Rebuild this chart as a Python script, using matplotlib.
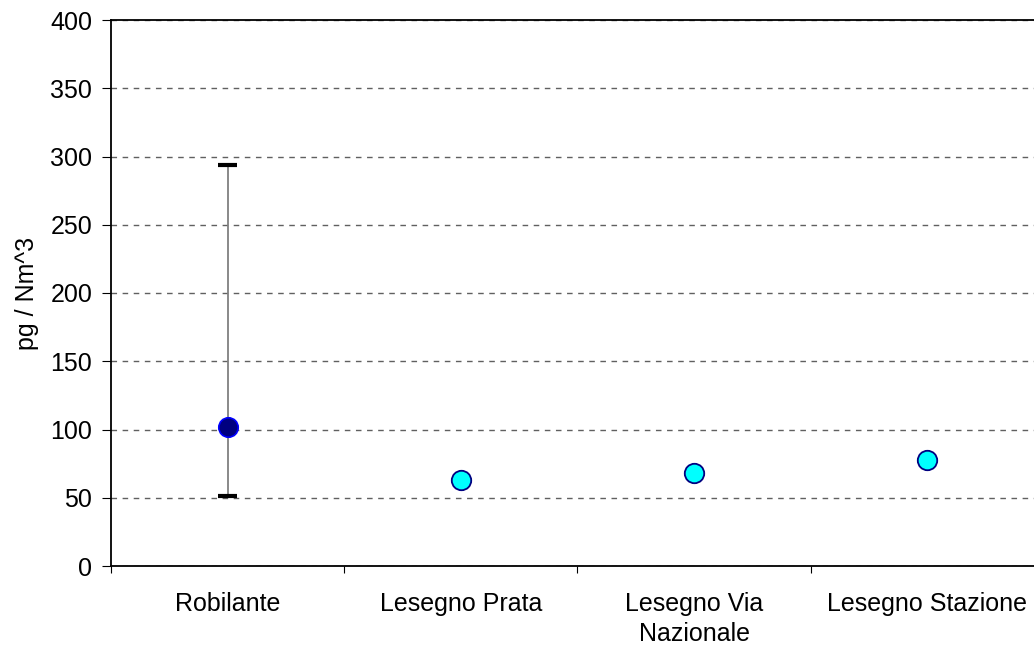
import matplotlib.pyplot as plt
import numpy as np

plt.rcParams['font.family'] = ['Liberation Sans', 'DejaVu Sans']
plt.rcParams['font.size'] = 18

# Data
sites = ['Robilante', 'Lesegno Prata', 'Lesegno Via\nNazionale', 'Lesegno Stazione']
values = [101.6, 63.0, 68.4, 77.4]
err_low = [51.0, None, None, None]
err_high = [294.0, None, None, None]

fig = plt.figure(figsize=(10.34, 6.48), dpi=100)
ax = fig.add_axes([111 / 1034, 1 - 566 / 648, 933 / 1034, 546 / 648])

x = np.arange(len(sites))

# Robilante with min/max range
ax.errorbar(x[0], values[0],
            yerr=[[values[0] - err_low[0]], [err_high[0] - values[0]]],
            fmt='none', ecolor='#808080', elinewidth=1.3, capsize=0, zorder=3)
for yc in (err_low[0], err_high[0]):
    ax.plot([x[0] - 0.04, x[0] + 0.04], [yc, yc], color='black', lw=3,
            solid_capstyle='butt', zorder=4)
ax.plot(x[0], values[0], 'o', ms=14, mfc='#000080', mec='#0000FF', mew=1.2, zorder=5)

# other sites
ax.plot(x[1:], values[1:], 'o', ls='none', ms=14, mfc='#00FFFF', mec='#000080',
        mew=1.3, zorder=5)

ax.set_xlim(-0.5, len(sites) - 0.5)
ax.set_ylim(0, 400)
ax.set_yticks(np.arange(0, 401, 50))
ax.yaxis.grid(True, color='#606060', linestyle=(0, (4, 4)), linewidth=1)
ax.set_axisbelow(True)

ax.set_xticks(np.arange(-0.5, len(sites), 1.0))
ax.set_xticklabels([])
ax.set_xticks(x, minor=True)
ax.set_xticklabels(sites, minor=True, linespacing=1.32)
ax.tick_params(axis='x', which='minor', length=0, pad=19)
ax.tick_params(axis='x', which='major', length=5, direction='out')
ax.tick_params(axis='y', length=6.5, direction='out', pad=7)

for s in ax.spines.values():
    s.set_linewidth(1.3)

ax.set_ylabel('pg / Nm^3', labelpad=8)

fig.savefig('out.png', dpi=100)
